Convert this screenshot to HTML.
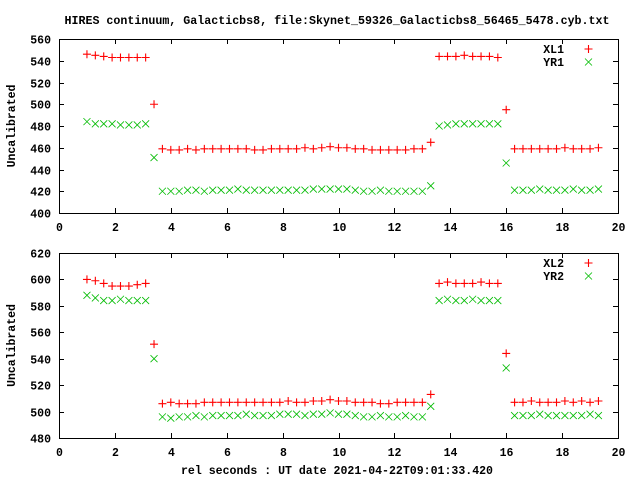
<!DOCTYPE html>
<html><head><meta charset="utf-8"><style>
html,body{margin:0;padding:0;background:#fff}
svg{display:block}
text{font-family:"Liberation Mono",monospace;font-weight:bold;font-size:11.5px;fill:#000}
</style></head><body>
<svg id="chart" width="640" height="480" xmlns="http://www.w3.org/2000/svg">
<rect width="640" height="480" fill="#fff"/>
<text x="337" y="24" text-anchor="middle" textLength="545" lengthAdjust="spacingAndGlyphs">HIRES continuum, Galacticbs8, file:Skynet_59326_Galacticbs8_56465_5478.cyb.txt</text>
<text x="337" y="474" text-anchor="middle" textLength="312" lengthAdjust="spacingAndGlyphs">rel seconds : UT date 2021-04-22T09:01:33.420</text>
<g id="p1"></g>
<g id="p2"></g>
</svg>
<script>
const xs = [1.0,1.3,1.6,1.9,2.2,2.5,2.8,3.1,3.4,3.7,4.0,4.3,4.6,4.9,5.2,5.5,5.8,6.1,6.4,6.7,7.0,7.3,7.6,7.9,8.2,8.5,8.8,9.1,9.4,9.7,10.0,10.3,10.6,10.9,11.2,11.5,11.8,12.1,12.4,12.7,13.0,13.3,13.6,13.9,14.2,14.5,14.8,15.1,15.4,15.7,16.0,16.3,16.6,16.9,17.2,17.5,17.8,18.1,18.4,18.7,19.0,19.3];
const xl1 = [546,545,544,543,543,543,543,543,500,459,458,458,459,458,459,459,459,459,459,459,458,458,459,459,459,459,460,459,460,461,460,460,459,459,458,458,458,458,458,459,459,465,544,544,544,545,544,544,544,543,495,459,459,459,459,459,459,460,459,459,459,460];
const yr1 = [484,482,482,482,481,481,481,482,451,420,420,420,421,421,420,421,421,421,422,421,421,421,421,421,421,421,421,422,422,422,422,422,421,420,420,421,420,420,420,420,420,425,480,481,482,482,482,482,482,482,446,421,421,421,422,421,421,421,422,421,421,422];
const xl2 = [600,599,597,595,595,595,596,597,551,506,507,506,506,506,507,507,507,507,507,507,507,507,507,507,508,507,507,508,508,509,508,508,507,507,507,506,506,507,507,507,507,513,597,598,597,597,597,598,597,597,544,507,507,508,507,507,507,508,507,508,507,508];
const yr2 = [588,586,584,584,585,584,584,584,540,496,495,496,496,497,496,497,497,497,497,498,497,497,497,498,498,498,497,498,498,499,498,498,497,496,496,497,496,496,497,496,496,504,584,585,584,584,585,584,584,584,533,497,497,497,498,497,497,497,497,497,498,497];
const xTicks = [0,2,4,6,8,10,12,14,16,18,20];
const yTicks1 = [400,420,440,460,480,500,520,540,560];
const yTicks2 = [480,500,520,540,560,580,600,620];
const names1 = ['XL1','YR1'];
const names2 = ['XL2','YR2'];

const NS='http://www.w3.org/2000/svg';
function mk(parent,tag,attrs){const e=document.createElementNS(NS,tag);for(const k in attrs)e.setAttribute(k,attrs[k]);parent.appendChild(e);return e;}
const L=59,R=618;
function xScale(v){return L+(v-0)/(20-0)*(R-L);}

function panel(g,top,bot,ymin,ymax,yTicks,sa,sb,names,legY){
  const yScale=v=>bot-(v-ymin)/(ymax-ymin)*(bot-top);
  const frame=mk(g,'rect',{x:L+0.5,y:top+0.5,width:R-L,height:bot-top,fill:'none',stroke:'#000','stroke-width':1});
  
  
  xTicks.forEach(t=>{
    const x=Math.round(xScale(t))+0.5;
    const tk=mk(g,'path',{d:`M${x},${bot}v-5M${x},${top}v5`,stroke:'#000','stroke-width':1});
    
    
    const lb=mk(g,'text',{x:x,y:bot+18,'text-anchor':'middle'});
    lb.textContent=t;
    
    
  });
  yTicks.forEach(t=>{
    const y=Math.round(yScale(t))+0.5;
    const tk=mk(g,'path',{d:`M${L},${y}h5M${R},${y}h-5`,stroke:'#000','stroke-width':1});
    
    
    const lb=mk(g,'text',{x:51,y:y+4,'text-anchor':'end'});
    lb.textContent=t;
    
    
  });
  const yl=mk(g,'text',{x:0,y:0,'text-anchor':'middle',transform:`translate(15,${(top+bot)/2}) rotate(-90)`});
  yl.textContent='Uncalibrated';
  
  
  function plus(px,py,name){
    const p=mk(g,'path',{d:`M${px-4},${py}h8M${px},${py-4}v8`,stroke:'#f00','stroke-width':1.1,fill:'none'});
    
    
  }
  function cross(px,py,name){
    const p=mk(g,'path',{d:`M${px-3.5},${py-3.5}l7,7M${px-3.5},${py+3.5}l7,-7`,stroke:'#0b0','stroke-width':0.8,fill:'none'});
    
    
  }
  xs.forEach((xv,i)=>{plus(xScale(xv),yScale(sa[i]),'point-'+names[0].toLowerCase());});
  xs.forEach((xv,i)=>{cross(xScale(xv),yScale(sb[i]),'point-'+names[1].toLowerCase());});
  [0,1].forEach(k=>{
    const ly=legY+k*13;
    const t=mk(g,'text',{x:564,y:ly+4,'text-anchor':'end'});
    t.textContent=names[k];
    
    
    if(k===0)plus(588.5,ly,'legend-marker');else cross(588.5,ly,'legend-marker');
  });
}
panel(document.getElementById('p1'),39,213,400,560,yTicks1,xl1,yr1,names1,49);
panel(document.getElementById('p2'),253,438,480,620,yTicks2,xl2,yr2,names2,263);
</script>
</body></html>
